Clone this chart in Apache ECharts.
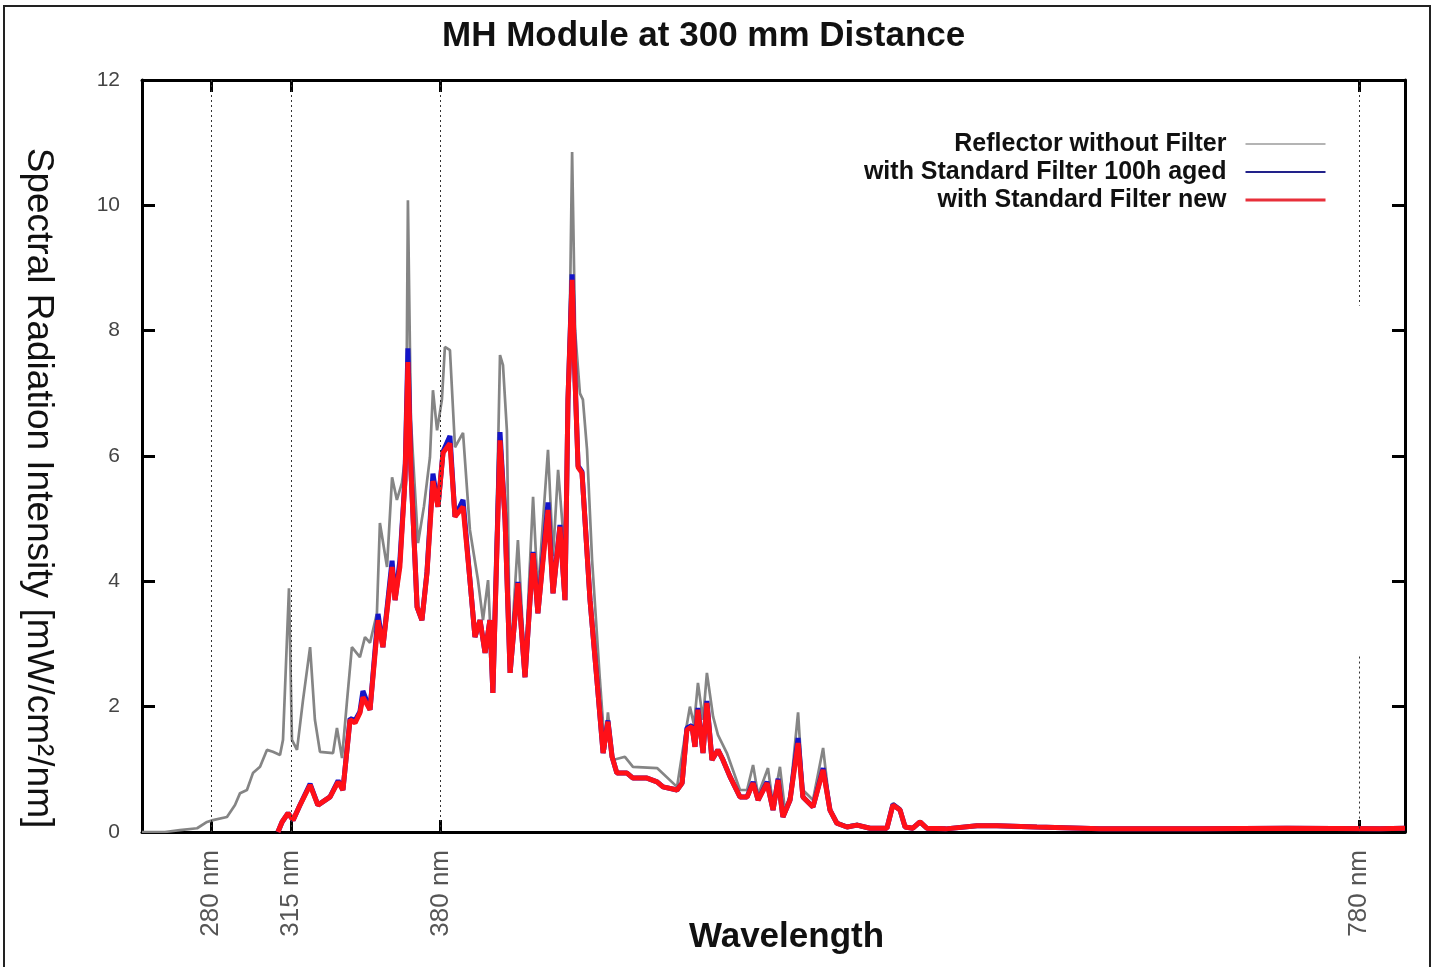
<!DOCTYPE html>
<html style="height: 100%">
<head>
    <meta charset="utf-8">
</head>
<body style="height: 100%; margin: 0; background: #fff">
<div id="spectrum_container" style="height: 967px; width: 1438px"></div>
<script src="https://cdn.jsdelivr.net/npm/echarts@6/dist/echarts.min.js"></script>
<script type="text/javascript">
    // values: wavelength in nm, intensity in mW/cm2/nm
    var reflectorNm = [250, 260, 266.5, 274, 278.3, 280.9, 287, 290.5, 292.7, 295.7, 298.3, 301.4, 304.4, 307, 310.1, 311.4, 314, 315.3, 317.5, 320.1,
        323.2, 325.3, 327.5, 333.2, 334.9, 337.1, 339.3, 341.4, 344.9, 347.1, 349.3, 352.3, 353.6, 356.7, 358.9, 361, 363.2, 365, 365.8, 367.1,
        370.2, 372.8, 375.4, 376.7, 378.5, 380.6, 381.9, 384.1, 386.3, 389.8, 392.8, 396.3, 398.5, 400.7, 402.8, 404.6, 405.9, 407.2, 408.9, 410.3,
        413.7, 416.8, 420.3, 422.4, 426.8, 429, 431.2, 434.2, 436.4, 437.3, 438.6, 440.7, 442, 443.8, 446, 449.4, 451.6, 452.9, 455.1, 460.3,
        463.8, 474.3, 483, 486.5, 488.6, 490.4, 492.1, 494.3, 496, 498.7, 500.8, 504.7, 510.4, 513.5, 516.1, 518.3, 522.6, 524.8, 527.8, 530,
        532.2, 535.7, 537.8, 542.2, 546.6, 549.6, 552.6, 557, 561.4, 567, 574.4, 577, 580.1, 582.3, 585.7, 588.8, 591.8, 600, 613.6, 622.3,
        639.7, 667.2, 710.7, 748.6, 789.1, 800];
    var reflectorVal = [0, 0, 0.03, 0.06, 0.16, 0.19, 0.24, 0.43, 0.62, 0.67, 0.94, 1.04, 1.31, 1.28, 1.23, 1.47, 3.89, 1.47, 1.31, 2.1,
        2.95, 1.79, 1.28, 1.26, 1.66, 1.18, 2.1, 2.95, 2.79, 3.11, 3.02, 3.49, 4.93, 4.23, 5.66, 5.3, 5.57, 6.1, 10.08, 6.57,
        4.61, 5.2, 5.98, 7.05, 6.41, 6.9, 7.74, 7.69, 6.14, 6.37, 4.82, 4.02, 3.38, 4.02, 2.35, 5.3, 7.61, 7.45, 6.41, 2.65,
        4.66, 2.6, 5.35, 3.8, 6.1, 4.4, 5.78, 4.4, 8.49, 10.85, 8.0, 7.0, 6.9, 6.1, 4.34, 2.43, 1.31, 1.91, 1.15, 1.2,
        1.04, 1.02, 0.72, 1.55, 2.0, 1.71, 2.38, 1.79, 2.54, 1.84, 1.55, 1.26, 0.67, 0.67, 1.07, 0.59, 1.02, 0.43, 1.04, 0.35,
        0.59, 1.91, 0.67, 0.51, 1.34, 0.38, 0.16, 0.1, 0.13, 0.06, 0.06, 0.46, 0.38, 0.08, 0.06, 0.18, 0.06, 0.05, 0.1, 0.1,
        0.08, 0.05, 0.05, 0.06, 0.05, 0.06];

    var filterNm = [309.2, 311, 313.6, 315.8, 318.8, 323.2, 326.6, 331.9, 335.4, 337.5, 340.6, 342.8, 344.9, 346.2, 349.3, 352.8, 354.9, 358.9, 360.2, 362.3,
        364.5, 365.8, 367.1, 369.8, 371.9, 374.1, 376.7, 378.9, 381.1, 384.1, 386.3, 389.8, 392.8, 395, 397.2, 399.4, 401.5, 402.8, 405.9, 408.1,
        410.3, 413.7, 416.8, 420.3, 422.4, 426.8, 429, 432, 434.2, 435.5, 437.3, 438.6, 439.9, 441.6, 445.1, 448.1, 450.8, 452.9, 454.7, 456.8,
        461.2, 463.8, 469.9, 474.3, 476.9, 483, 485.2, 487.3, 489.5, 490.8, 492.1, 494.3, 496, 498.2, 500.8, 503, 506.1, 510.4, 513.5, 516.1,
        518.3, 522.2, 524.8, 527, 529.1, 532.2, 535.7, 537.8, 542.2, 546.6, 549.6, 552.6, 557, 561.4, 567, 574.4, 577, 580.1, 582.3, 585.7,
        588.8, 591.8, 600, 613.6, 622.3, 639.7, 667.2, 710.7, 748.6, 789.1, 800];
    var agedVal = [0, 0.16, 0.3, 0.19, 0.43, 0.77, 0.43, 0.56, 0.82, 0.67, 1.81, 1.78, 1.92, 2.25, 1.95, 3.48, 2.95, 4.33, 3.7, 4.33,
        5.62, 7.72, 5.8, 3.59, 3.38, 4.15, 5.72, 5.19, 6.07, 6.32, 5.03, 5.3, 4.02, 3.11, 3.38, 2.86, 3.38, 2.22, 6.38, 4.98,
        2.54, 3.99, 2.47, 4.47, 3.49, 5.26, 3.81, 4.9, 3.7, 6.9, 8.9, 7.2, 5.84, 5.75, 3.7, 2.43, 1.26, 1.78, 1.2, 0.94,
        0.94, 0.86, 0.86, 0.8, 0.72, 0.67, 0.78, 1.66, 1.7, 1.36, 1.98, 1.26, 2.09, 1.15, 1.31, 1.15, 0.88, 0.56, 0.56, 0.8,
        0.51, 0.8, 0.35, 0.85, 0.24, 0.51, 1.5, 0.56, 0.4, 1.02, 0.35, 0.14, 0.08, 0.11, 0.06, 0.06, 0.44, 0.35, 0.08, 0.06,
        0.16, 0.06, 0.05, 0.1, 0.1, 0.08, 0.05, 0.05, 0.06, 0.05, 0.06];
    var newVal = [0, 0.16, 0.3, 0.19, 0.43, 0.75, 0.43, 0.56, 0.8, 0.67, 1.79, 1.74, 1.9, 2.15, 1.95, 3.38, 2.95, 4.23, 3.7, 4.23,
        5.6, 7.5, 5.78, 3.59, 3.38, 4.13, 5.6, 5.19, 6.05, 6.2, 5.03, 5.19, 4.02, 3.11, 3.38, 2.86, 3.38, 2.22, 6.25, 4.98,
        2.54, 3.97, 2.47, 4.45, 3.49, 5.14, 3.81, 4.87, 3.7, 6.9, 8.81, 7.2, 5.82, 5.73, 3.7, 2.43, 1.26, 1.76, 1.2, 0.94,
        0.94, 0.86, 0.86, 0.8, 0.72, 0.67, 0.78, 1.63, 1.68, 1.36, 1.95, 1.26, 2.06, 1.15, 1.31, 1.15, 0.88, 0.56, 0.56, 0.78,
        0.51, 0.78, 0.35, 0.83, 0.24, 0.51, 1.42, 0.56, 0.4, 0.99, 0.35, 0.14, 0.08, 0.11, 0.06, 0.06, 0.43, 0.35, 0.08, 0.06,
        0.16, 0.06, 0.05, 0.1, 0.1, 0.08, 0.05, 0.05, 0.06, 0.05, 0.06];

    var markNm = [280, 315, 380, 780];
    var seriesNames = ['Reflector without Filter', 'with Standard Filter 100h aged', 'with Standard Filter new'];

    function zip(xs, ys) {
        return xs.map(function (x, i) { return [x, ys[i]]; });
    }

    var spectrum_dom = document.getElementById('spectrum_container');
    var spectrum_chart = echarts.init(spectrum_dom);
    var baseFont = 'Liberation Sans';

    // dotted guide lines; the one at 780 nm is broken in the original
    var guideLines = markNm.slice(0, 3).map(function (v) { return { xAxis: v }; });
    guideLines.push([{ coord: [780, 12] }, { coord: [780, 8.4] }]);
    guideLines.push([{ coord: [780, 2.8] }, { coord: [780, 0] }]);

    function xAxisBox(pos, withLabels) {
        return {
            type: 'value',
            position: pos,
            min: 250,
            max: 800,
            axisLine: { show: true, onZero: false, lineStyle: { color: '#000', width: 3 } },
            axisTick: { show: true, inside: true, length: 12, customValues: markNm, lineStyle: { color: '#000', width: 3 } },
            axisLabel: withLabels ? {
                customValues: markNm,
                rotate: 90,
                margin: 18,
                formatter: '{value} nm',
                fontFamily: baseFont,
                fontSize: 26,
                color: '#555'
            } : { show: false },
            splitLine: { show: false }
        };
    }

    function yAxisBox(pos, withLabels) {
        return {
            type: 'value',
            position: pos,
            min: 0,
            max: 12,
            interval: 2,
            axisLine: { show: true, lineStyle: { color: '#000', width: 3 } },
            axisTick: { show: true, inside: true, length: 13, lineStyle: { color: '#000', width: 3 } },
            axisLabel: withLabels ? { margin: 22, fontFamily: baseFont, fontSize: 21, color: '#444' } : { show: false },
            splitLine: { show: false }
        };
    }

    var xBottom = xAxisBox('bottom', true);
    xBottom.name = 'Wavelength';
    xBottom.nameLocation = 'middle';
    xBottom.nameGap = 88;
    xBottom.nameMoveOverlap = false;
    xBottom.nameTextStyle = { fontFamily: baseFont, fontSize: 35, fontWeight: 'bold', color: '#111', padding: [0, 0, 0, 26] };

    var yLeft = yAxisBox('left', true);
    yLeft.name = 'Spectral Radiation Intensity [mW/cm²/nm]';
    yLeft.nameLocation = 'middle';
    yLeft.nameRotate = -90;
    yLeft.nameGap = 85;
    yLeft.nameMoveOverlap = false;
    yLeft.nameTextStyle = { fontFamily: baseFont, fontSize: 37, color: '#111', padding: [0, 0, 0, 64] };

    var spectrum_option = {
        backgroundColor: '#fff',
        animation: false,
        title: {
            text: 'MH Module at 300 mm Distance',
            left: 437,
            top: 14,
            textStyle: { fontFamily: baseFont, fontSize: 35, fontWeight: 'bold', color: '#111' }
        },
        graphic: [{
            type: 'rect',
            shape: { x: 4, y: 6, width: 1426, height: 975 },
            style: { fill: 'none', stroke: '#222', lineWidth: 2 },
            silent: true
        }],
        legend: {
            orient: 'vertical',
            right: 106,
            top: 125,
            align: 'right',
            itemWidth: 80,
            itemHeight: 14,
            itemGap: 0,
            itemStyle: { opacity: 0 },
            textStyle: { fontFamily: baseFont, fontSize: 25, fontWeight: 'bold', color: '#111', lineHeight: 28, padding: [0, 14, 0, 0] },
            data: [
                { name: seriesNames[0], itemStyle: { opacity: 0 }, lineStyle: { color: '#b4b4b4', width: 2 } },
                { name: seriesNames[1], itemStyle: { opacity: 0 }, lineStyle: { color: '#22228a', width: 2 } },
                { name: seriesNames[2], itemStyle: { opacity: 0 }, lineStyle: { color: '#e8303a', width: 3 } }
            ]
        },
        grid: { left: 142, right: 33, top: 80, bottom: 135, outerBoundsMode: 'none' },
        xAxis: [xBottom, xAxisBox('top', false)],
        yAxis: [yLeft, yAxisBox('right', false)],
        series: [
            {
                name: seriesNames[0],
                type: 'line',
                symbol: 'none',
                data: zip(reflectorNm, reflectorVal),
                lineStyle: { color: '#858585', width: 2.7 },
                itemStyle: { color: '#858585' },
                markLine: {
                    silent: true,
                    symbol: 'none',
                    label: { show: false },
                    lineStyle: { color: '#333', width: 1, type: [2, 3] },
                    data: guideLines
                }
            },
            {
                name: seriesNames[1],
                type: 'line',
                symbol: 'none',
                data: zip(filterNm, agedVal),
                lineStyle: { color: '#1414c8', width: 5 },
                itemStyle: { color: '#1414c8' }
            },
            {
                name: seriesNames[2],
                type: 'line',
                symbol: 'none',
                data: zip(filterNm, newVal),
                lineStyle: { color: '#ff1018', width: 5 },
                itemStyle: { color: '#ff1018' }
            }
        ]
    };

    if (spectrum_option && typeof spectrum_option === 'object') {
        spectrum_chart.setOption(spectrum_option, true);
    }
</script>
</body>
</html>
